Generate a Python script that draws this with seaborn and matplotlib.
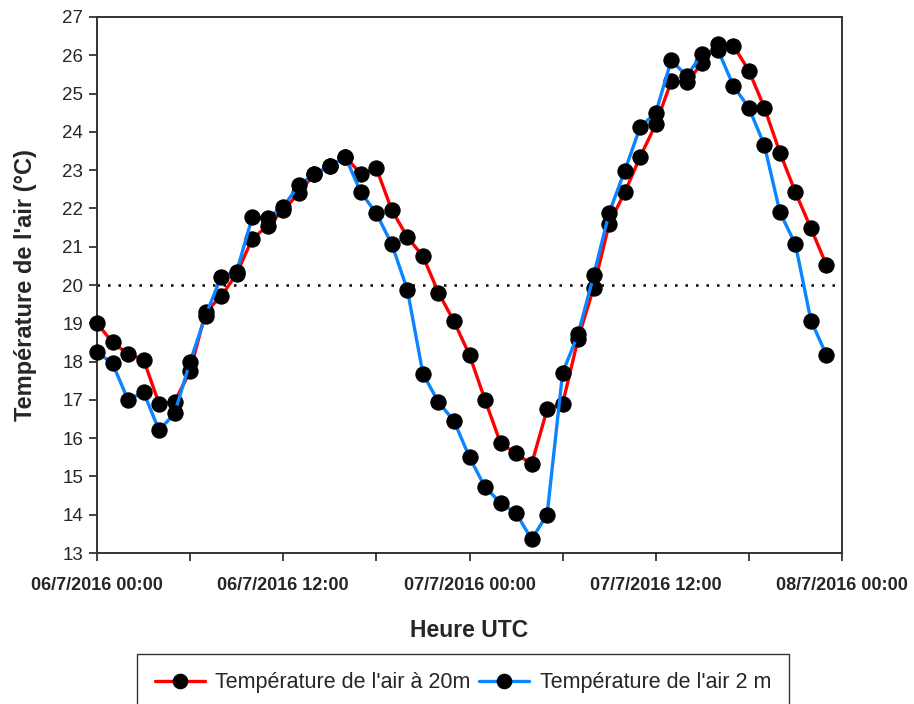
import matplotlib
matplotlib.use("Agg")
import matplotlib.pyplot as plt
import numpy as np
import pandas as pd
import seaborn as sns

# Hourly timestamps, 06/7/2016 00:00 to 07/7/2016 23:00 (UTC)
times = pd.date_range("2016-07-06 00:00", periods=48, freq="h")

# Air temperature at 20 m (°C)
temp_20m = [
    19.0, 18.5, 18.2, 18.05, 16.9, 16.95, 17.75, 19.3,
    19.7, 20.3, 21.2, 21.55, 21.95, 22.4, 22.9, 23.1,
    23.35, 22.9, 23.05, 21.95, 21.25, 20.75, 19.8, 19.05,
    18.17, 17.0, 15.87, 15.6, 15.32, 16.75, 16.9, 18.6,
    19.93, 21.6, 22.42, 23.35, 24.2, 25.32, 25.3, 25.8,
    26.3, 26.25, 25.6, 24.63, 23.46, 22.42, 21.48, 20.52,
]

# Air temperature at 2 m (°C)
temp_2m = [
    18.25, 17.95, 17.0, 17.2, 16.2, 16.65, 18.0, 19.2,
    20.22, 20.35, 21.77, 21.75, 22.05, 22.6, 22.9, 23.1,
    23.35, 22.42, 21.87, 21.06, 19.87, 17.68, 16.94, 16.45,
    15.5, 14.72, 14.31, 14.04, 13.36, 14.0, 17.71, 18.72,
    20.25, 21.89, 22.98, 24.13, 24.5, 25.87, 25.46, 26.04,
    26.15, 25.2, 24.63, 23.65, 21.9, 21.06, 19.07, 18.17,
]

label_20m = "Température de l'air à 20m"
label_2m = "Température de l'air 2 m"

y_ticks = list(range(13, 28))
x_tick_labels = ["06/7/2016 00:00", "06/7/2016 12:00", "07/7/2016 00:00",
                 "07/7/2016 12:00", "08/7/2016 00:00"]
threshold = 20

df = pd.DataFrame({
    "time": list(times) * 2,
    "temp": temp_20m + temp_2m,
    "series": [label_20m] * len(temp_20m) + [label_2m] * len(temp_2m),
})

sns.set_style("ticks")
plt.rcParams["font.family"] = ["Liberation Sans", "DejaVu Sans"]

fig = plt.figure(figsize=(9.14, 7.04), dpi=100)
ax = fig.add_axes([97 / 914, 1 - 553 / 704, (842 - 97) / 914, (553 - 17) / 704])

palette = {label_20m: "#FF0000", label_2m: "#0A84FF"}
sns.lineplot(
    data=df, x="time", y="temp", hue="series", palette=palette,
    hue_order=[label_20m, label_2m], ax=ax,
    marker="o", markersize=11, markerfacecolor="black",
    markeredgecolor="black", linewidth=2.4, legend=True, clip_on=False,
)
for ln in ax.lines:
    ln.set_zorder(3)

# Reference line at 20 °C
ax.axhline(threshold, color="black", linestyle=(0, (1, 3.2)), linewidth=1.8, zorder=1)

start = pd.Timestamp("2016-07-06 00:00")
end = pd.Timestamp("2016-07-08 00:00")
ax.set_xlim(start, end)
ax.set_ylim(13, 27)
ax.set_yticks(y_ticks)
ax.set_yticklabels([str(v) for v in y_ticks])

major = pd.date_range(start, end, freq="12h")
minor = pd.date_range(start, end, freq="6h")
ax.set_xticks(major)
ax.set_xticklabels(x_tick_labels, fontweight="bold", fontsize=13)
ax.set_xticks(minor, minor=True)

ax.tick_params(axis="both", which="both", direction="out", length=6, width=1.3,
               color="#333333")
ax.tick_params(axis="y", labelsize=13.5, pad=4)
ax.tick_params(axis="x", pad=11)
for s in ax.spines.values():
    s.set_linewidth(1.4)
    s.set_color("#333333")

ax.set_xlabel("Heure UTC", fontsize=16.5, fontweight="bold", labelpad=18)
ax.set_ylabel("Température de l'air (°C)", fontsize=17, fontweight="bold", labelpad=18)

handles, labels = ax.get_legend_handles_labels()
ax.get_legend().remove()
leg = fig.legend(
    handles, labels, loc="upper center", ncol=2,
    bbox_to_anchor=(463 / 914, 1 - 654 / 704), fontsize=15.5,
    frameon=True, fancybox=False, edgecolor="black", borderpad=0.85,
    handlelength=2.3, handletextpad=0.5, columnspacing=0.4, borderaxespad=0,
)
leg.get_frame().set_linewidth(1.0)
for h in leg.legend_handles:
    h.set_markersize(10.5)

fig.savefig("out.png", dpi=100)
